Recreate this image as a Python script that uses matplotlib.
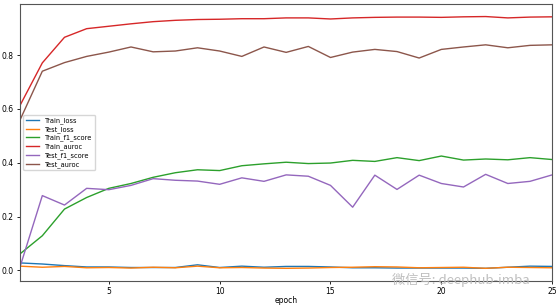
import matplotlib
matplotlib.use("Agg")
import matplotlib.pyplot as plt

epochs = list(range(1, 26))
train_loss = [0.028, 0.024, 0.018, 0.013, 0.013, 0.011, 0.011, 0.011, 0.021, 0.011,
              0.016, 0.012, 0.015, 0.015, 0.013, 0.010, 0.010, 0.009, 0.009, 0.009,
              0.009, 0.008, 0.012, 0.016, 0.015]
test_loss = [0.016, 0.012, 0.015, 0.010, 0.011, 0.009, 0.012, 0.010, 0.016, 0.010,
             0.011, 0.009, 0.008, 0.009, 0.011, 0.012, 0.014, 0.013, 0.010, 0.011,
             0.012, 0.008, 0.012, 0.011, 0.010]
train_f1 = [0.062, 0.129, 0.228, 0.271, 0.305, 0.323, 0.346, 0.363, 0.374, 0.371,
            0.389, 0.396, 0.402, 0.397, 0.399, 0.409, 0.405, 0.419, 0.408, 0.425,
            0.410, 0.414, 0.411, 0.419, 0.412]
train_auroc = [0.614, 0.771, 0.866, 0.898, 0.907, 0.916, 0.924, 0.929, 0.932, 0.933,
               0.935, 0.935, 0.938, 0.938, 0.934, 0.938, 0.940, 0.941, 0.941, 0.940,
               0.942, 0.943, 0.938, 0.941, 0.942]
test_f1 = [0.015, 0.278, 0.243, 0.305, 0.300, 0.316, 0.341, 0.335, 0.332, 0.320,
           0.344, 0.331, 0.355, 0.350, 0.316, 0.235, 0.354, 0.301, 0.354, 0.323,
           0.310, 0.357, 0.323, 0.331, 0.355]
test_auroc = [0.560, 0.740, 0.772, 0.795, 0.811, 0.830, 0.812, 0.815, 0.827, 0.815,
              0.795, 0.830, 0.810, 0.832, 0.791, 0.811, 0.821, 0.813, 0.789, 0.821,
              0.830, 0.838, 0.827, 0.836, 0.838]

series = [("Train_loss", train_loss), ("Test_loss", test_loss),
          ("Train_f1_score", train_f1), ("Train_auroc", train_auroc),
          ("Test_f1_score", test_f1), ("Test_auroc", test_auroc)]

fig = plt.figure(figsize=(5.6, 3.05), dpi=100)
ax = fig.add_axes([0.036, 0.079, 0.950, 0.908])
for name, vals in series:
    ax.plot(epochs, vals, label=name, linewidth=1.0)
ax.set_xlim(1, 25)
ax.set_xticks([5, 10, 15, 20, 25])
ax.set_yticks([0.0, 0.2, 0.4, 0.6, 0.8])
ax.tick_params(labelsize=5.5, length=2.5, width=0.6, pad=2)
for s in ax.spines.values():
    s.set_linewidth(0.8)
    s.set_color("#555555")
ax.set_xlabel("epoch", fontsize=5.5, labelpad=0)
ax.legend(loc="center left", fontsize=4.8, handlelength=2.0, labelspacing=0.3,
          borderpad=0.4, framealpha=0.8)

fig.text(0.70, 0.082, "微信号: deephub-imba", fontsize=9.5, color="#b8b8b8",
         family=["Noto Sans CJK SC", "DejaVu Sans"], va="center", alpha=0.9)

fig.savefig("out.png", dpi=100)
